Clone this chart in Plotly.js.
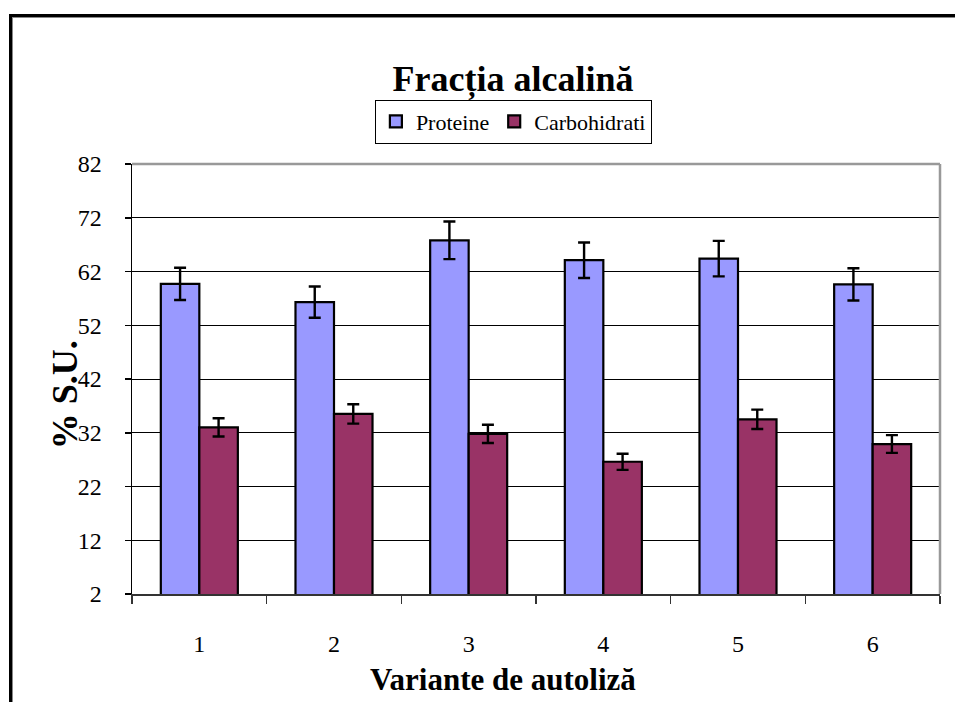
<!DOCTYPE html>
<html>
<head>
<meta charset="utf-8">
<script src="https://cdn.plot.ly/plotly-3.0.1.min.js"></script>
<style>
  html, body { margin: 0; padding: 0; background: #fff; }
  #wrap { position: relative; width: 955px; height: 702px; overflow: hidden; }
  #chart { width: 955px; height: 702px; }
  #frame { position: absolute; left: 9px; top: 14px; width: 1000px; height: 800px;
           border-left: 3px solid #000; border-top: 3px solid #000;
           box-shadow: inset 1px 1px 0 #888; pointer-events: none; }
</style>
</head>
<body>
<div id="wrap">
  <div id="chart"></div>
  <div id="frame"></div>
</div>
<script>
const categories = ['1', '2', '3', '4', '5', '6'];
const proteine = [59.7, 56.3, 67.8, 64.1, 64.4, 59.6];
const proteineErr = [3.0, 2.9, 3.5, 3.3, 3.3, 3.0];
const carbohidrati = [33.0, 35.5, 31.8, 26.6, 34.5, 29.9];
const carbohidratiErr = [1.7, 1.8, 1.7, 1.5, 1.8, 1.65];
const yTicks = [2, 12, 22, 32, 42, 52, 62, 72, 82];

const serif = 'Liberation Serif';

const traces = [
  {
    type: 'bar', name: 'Proteine', x: categories, y: proteine,
    marker: { color: '#9999FF', line: { color: '#000', width: 2.2 } },
    error_y: { type: 'data', array: proteineErr, visible: true, color: '#000', thickness: 2.4, width: 6 }
  },
  {
    type: 'bar', name: 'Carbohidrati', x: categories, y: carbohidrati,
    marker: { color: '#993366', line: { color: '#000', width: 2.2 } },
    error_y: { type: 'data', array: carbohidratiErr, visible: true, color: '#000', thickness: 2.4, width: 6 }
  }
];

const layout = {
  width: 955, height: 702,
  font: { family: serif, color: '#000', size: 20 },
  margin: { l: 132, r: 15, t: 163.5, b: 108 },
  paper_bgcolor: '#fff', plot_bgcolor: '#fff',
  barmode: 'group', bargap: 0.428, bargroupgap: 0,
  showlegend: true,
  title: {
    text: '<b>Fracția alcalină</b>',
    font: { family: serif, size: 36, color: '#000' },
    xref: 'paper', x: 0.4715, xanchor: 'center',
    yref: 'container', y: 1 - 78 / 702, yanchor: 'middle'
  },
  legend: {
    orientation: 'h', x: 0.472, xanchor: 'center', y: 1.15, yanchor: 'top',
    bordercolor: '#000', borderwidth: 1, bgcolor: '#fff',
    font: { family: serif, size: 22, color: '#000' },
    itemwidth: 30, traceorder: 'normal'
  },
  xaxis: {
    type: 'category', tickson: 'boundaries', ticks: 'outside', ticklen: 8, tickwidth: 1.5, tickcolor: '#333',
    showline: true, linecolor: '#333', linewidth: 1.5, showgrid: false, zeroline: false,
    tickfont: { family: serif, size: 24, color: '#000' }, ticklabelstandoff: 28,
    fixedrange: true
  },
  yaxis: {
    range: [2, 82], tickvals: yTicks, ticktext: yTicks.map(String),
    ticks: 'outside', ticklen: 6, tickwidth: 1.5, tickcolor: '#000',
    showline: true, linecolor: '#000', linewidth: 1.5,
    showgrid: true, gridcolor: '#000', gridwidth: 1, zeroline: false,
    tickfont: { family: serif, size: 24, color: '#000' }, ticklabelstandoff: 18,
    fixedrange: true
  },
  shapes: [
    { type: 'line', xref: 'paper', yref: 'paper', x0: 0, x1: 1, y0: 1, y1: 1, line: { color: '#999', width: 2.5 } },
    { type: 'line', xref: 'paper', yref: 'paper', x0: 1, x1: 1, y0: 0, y1: 1, line: { color: '#999', width: 2.5 } }
  ],
  annotations: [
    { text: '<b>% S.U.</b>', xref: 'paper', yref: 'paper', x: -0.0829, y: 0.462,
      xanchor: 'center', yanchor: 'middle', textangle: -90, showarrow: false,
      font: { family: serif, size: 36, color: '#000' } },
    { text: '<b>Variante de autoliză</b>', xref: 'paper', yref: 'paper', x: 0.459, y: -0.1998,
      xanchor: 'center', yanchor: 'middle', showarrow: false,
      font: { family: serif, size: 31, color: '#000' } }
  ]
};

Plotly.newPlot('chart', traces, layout, { displayModeBar: false, staticPlot: true });
</script>
</body>
</html>
